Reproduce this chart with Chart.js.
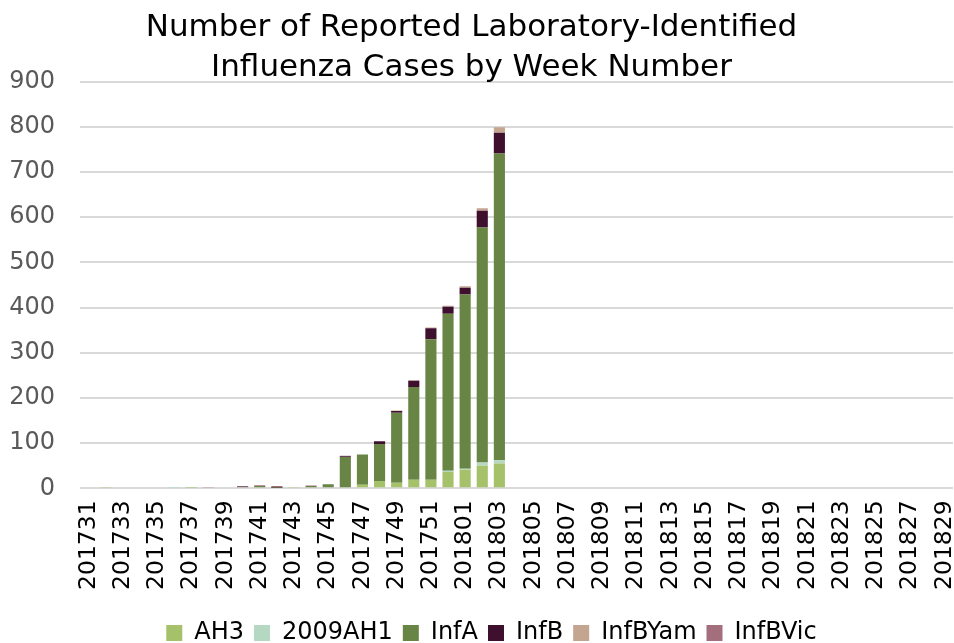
<!DOCTYPE html>
<html>
<head>
<meta charset="utf-8">
<script src="https://cdn.jsdelivr.net/npm/chart.js@4"></script>
<style>
  html, body { margin: 0; padding: 0; background: #fff; }
  #wrap { width: 954px; height: 643px; overflow: hidden; }
</style>
</head>
<body>
<div id="wrap"><canvas id="fluChart" width="954" height="643"></canvas></div>
<script>
// Week numbers 201731 .. 201829
const weeks = ['201731','201732','201733','201734','201735','201736','201737','201738','201739','201740',
  '201741','201742','201743','201744','201745','201746','201747','201748','201749','201750','201751','201752',
  '201801','201802','201803','201804','201805','201806','201807','201808','201809','201810','201811','201812',
  '201813','201814','201815','201816','201817','201818','201819','201820','201821','201822','201823','201824',
  '201825','201826','201827','201828','201829'];

// Cases per week (only the first 25 weeks have reports)
const ah3     = [0,2,0,0,0,0,1,0,0,0, 0,0,2,0,0,0,8,16,12,19, 19,36,41,50,55];
const h1_2009 = [0,0,0,0,0,1,0,0,0,0, 0,0,0,0,0,0,0,0,0,0, 0,3,2,7,7];
const infA    = [0,0,0,0,0,0,0,0,0,3, 5,1,0,5,9,69,67,82,155,205, 311,347,386,520,679];
const infB    = [0,0,0,0,0,0,0,0,0,1, 0,2,0,0,0,2,0,6,4,14, 24,16,15,37,46];
const infBYam = [0,0,0,0,0,0,0,0,0,0, 0,0,0,0,0,0,0,0,1,1, 2,2,3,6,12];
const infBVic = [0,0,0,0,0,0,0,2,0,1, 2,2,0,1,0,1,0,0,0,0, 0,0,0,0,0];

const yTicks = [0, 100, 200, 300, 400, 500, 600, 700, 800, 900];

const FONT = "'DejaVu Sans', sans-serif";

function pad(arr) {
  // fill the remaining weeks with zero
  return weeks.map((w, i) => arr[i] || 0);
}

const ctx = document.getElementById('fluChart').getContext('2d');
const fluChart = new Chart(ctx, {
  type: 'bar',
  data: {
    labels: weeks,
    datasets: [
      { label: 'AH3', data: pad(ah3), backgroundColor: '#a5c26b' },
      { label: '2009AH1', data: pad(h1_2009), backgroundColor: '#b5d8c2' },
      { label: 'InfA', data: pad(infA), backgroundColor: '#698545' },
      { label: 'InfB', data: pad(infB), backgroundColor: '#3f0f2e' },
      { label: 'InfBYam', data: pad(infBYam), backgroundColor: '#c4a58f' },
      { label: 'InfBVic', data: pad(infBVic), backgroundColor: '#a46f7d' }
    ]
  },
  options: {
    responsive: false,
    animation: false,
    devicePixelRatio: 1,
    layout: { padding: { left: -10, right: 1, top: 0, bottom: 5 } },
    datasets: {
      bar: { barPercentage: 0.65, categoryPercentage: 1.0, borderWidth: 0 }
    },
    plugins: {
      title: {
        display: true,
        text: ['Number of Reported Laboratory-Identified', 'Influenza Cases by Week Number'],
        color: '#000',
        font: { family: FONT, size: 31, weight: 'normal', lineHeight: 1.3 },
        padding: { top: 8, bottom: -7 }
      },
      legend: {
        position: 'bottom',
        labels: {
          color: '#000',
          font: { family: FONT, size: 24 },
          boxWidth: 16,
          boxHeight: 16,
          padding: 10
        }
      },
      tooltip: { enabled: false }
    },
    scales: {
      x: {
        stacked: true,
        grid: { display: false },
        border: { display: false },
        afterFit: function(scale) {
          scale.paddingLeft = 0;
          scale.paddingRight = 0;
        },
        ticks: {
          color: '#000',
          font: { family: FONT, size: 23.5 },
          autoSkip: false,
          minRotation: 90,
          maxRotation: 90,
          padding: 4,
          callback: function(value, index) {
            return index % 2 === 0 ? weeks[index] : null;
          }
        }
      },
      y: {
        stacked: true,
        min: yTicks[0],
        max: yTicks[yTicks.length - 1],
        afterBuildTicks: function(axis) {
          axis.ticks = yTicks.map(v => ({ value: v }));
        },
        afterFit: function(scale) {
          scale.width = 90;
        },
        grid: { color: '#d9d9d9', lineWidth: 2, drawTicks: false },
        border: { display: false },
        ticks: {
          color: '#595959',
          font: { family: FONT, size: 24 },
          padding: 25
        }
      }
    }
  }
});

// the legend sits a little right of centre and low in the original
const legendDraw = fluChart.legend.draw;
fluChart.legend.draw = function() {
  ctx.save();
  ctx.translate(20, 17);
  legendDraw.apply(this, arguments);
  ctx.restore();
};
fluChart.draw();
</script>
</body>
</html>
